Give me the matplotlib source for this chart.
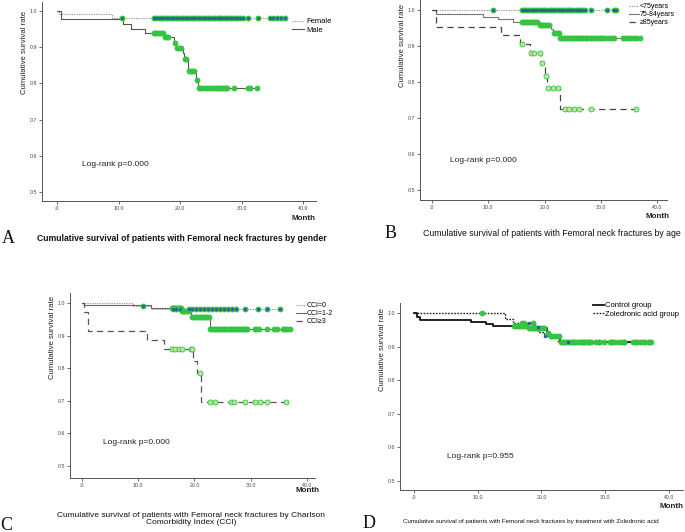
import numpy as np
import matplotlib
matplotlib.use("Agg")
import matplotlib.pyplot as plt

W, H = 685, 532

# ---- data (months, survival) ----
female_t = [0.3, 8.9]
female_s = [0.991, 0.982]
female_c = [10.5, 15.7, 16.1, 16.5, 16.9, 17.3, 17.7, 18.1, 18.5, 18.9, 19.3, 19.7, 20.1,
            20.5, 20.9, 21.3, 21.7, 22.1, 22.5, 22.9, 23.3, 23.7, 24.1, 24.5, 24.9, 25.3,
            25.7, 26.1, 26.5, 26.9, 27.3, 27.7, 28.1, 28.5, 28.9, 29.3, 29.7, 30.3, 31.1,
            32.7, 34.6, 35.1, 35.8, 36.4, 37.1]
male_t = [0.7, 10.8, 12.1, 14.3, 17.4, 19.0, 19.4, 20.5, 20.7, 21.3, 22.6, 22.9]
male_s = [0.977, 0.964, 0.951, 0.939, 0.927, 0.913, 0.899, 0.883, 0.867, 0.833, 0.810, 0.786]
male_c = [15.7, 16.0, 16.3, 16.6, 16.9, 17.2, 17.6, 17.9, 18.1, 19.1, 19.5, 19.8, 20.1,
          20.8, 21.0, 21.4, 21.7, 22.0, 22.3, 22.7, 23.0, 23.3, 23.6, 24.0, 24.4, 24.7,
          25.1, 25.5, 25.9, 26.2, 26.5, 26.8, 27.1, 27.4, 27.7, 28.8, 31.0, 31.4, 32.5]

age1_t = []
age1_s = []
age1_c = [10.8, 15.9, 16.3, 16.7, 17.1, 17.5, 17.9, 18.3, 18.7, 19.1, 19.5, 19.9, 20.3,
          20.7, 21.1, 21.5, 21.9, 22.3, 22.7, 23.1, 23.5, 23.9, 24.3, 24.7, 25.1, 25.5,
          25.9, 26.3, 26.7, 27.1, 28.3, 31.0, 32.4, 32.7]
age2_t = [0.8, 9.1, 11.7, 14.4, 19.1, 21.2, 21.5, 22.7]
age2_s = [0.988, 0.981, 0.975, 0.967, 0.958, 0.946, 0.935, 0.922]
age2_c = [15.9, 16.2, 16.5, 16.8, 17.1, 17.4, 17.7, 18.0, 18.3, 18.6, 19.2, 19.5, 19.8,
          20.1, 20.4, 20.7, 21.6, 21.9, 22.2, 22.5, 22.8, 23.1, 23.4, 23.7, 24.0, 24.3,
          24.6, 24.9, 25.2, 25.5, 25.8, 26.1, 26.4, 26.7, 27.0, 27.3, 27.6, 28.0, 28.4,
          28.8, 29.2, 29.6, 30.0, 30.4, 30.8, 31.2, 31.8, 32.3, 33.9, 34.3, 34.8, 35.3,
          35.8, 36.3, 36.9]
age3_t = [0.8, 12.2, 15.7, 17.4, 19.4, 20.0, 20.5, 22.8]
age3_s = [0.954, 0.931, 0.907, 0.881, 0.852, 0.817, 0.783, 0.724]
age3_c = [16.0, 17.6, 18.1, 19.1, 19.6, 20.2, 20.6, 21.5, 22.4, 23.6, 24.3, 25.3, 26.1,
          28.3, 36.3]

cci0_t = [9.1, 12.2]
cci0_s = [0.991, 0.982]
cci0_c = [10.8, 16.2, 16.8, 17.4, 19.0, 19.6, 20.3, 21.0, 21.7, 22.4, 23.1, 23.8, 24.5,
          25.2, 25.9, 26.6, 27.4, 28.9, 31.3, 32.8, 35.2]
cci1_t = [0.4, 12.2, 17.7, 19.4, 22.7]
cci1_s = [0.994, 0.986, 0.977, 0.956, 0.922]
cci1_c = [16.0, 16.2, 16.4, 16.6, 16.8, 17.0, 17.2, 17.4, 17.6, 17.8, 18.0, 18.2, 18.4,
          18.7, 19.0, 19.6, 19.9, 20.2, 20.5, 20.8, 21.1, 21.4, 21.7, 22.0, 22.3, 22.6,
          22.8, 23.1, 23.4, 23.7, 24.0, 24.3, 24.6, 24.9, 25.2, 25.5, 25.8, 26.1, 26.4,
          26.7, 27.0, 27.3, 27.6, 27.9, 28.2, 28.5, 28.8, 29.1, 29.4, 30.7, 31.0, 31.5,
          32.8, 34.2, 34.7, 35.7, 36.1, 36.5, 36.9]
cci3_t = [0.4, 1.0, 11.5, 14.5, 19.8, 20.4, 21.1]
cci3_s = [0.972, 0.915, 0.888, 0.860, 0.822, 0.784, 0.697]
cci3_c = [16.0, 16.6, 17.2, 17.8, 19.3, 19.6, 20.9, 22.7, 23.6, 26.5, 27.1, 28.9, 30.7,
          31.6, 32.8, 36.3]

ctrl_t = [0.4, 0.9, 9.0, 11.3, 12.4, 17.8, 20.8, 21.3, 22.9]
ctrl_s = [0.988, 0.980, 0.973, 0.967, 0.962, 0.956, 0.942, 0.932, 0.913]
ctrl_c = [15.7, 16.0, 16.3, 16.6, 16.9, 17.2, 17.5, 18.0, 18.3, 18.6, 18.9, 19.2, 19.5,
          19.8, 20.1, 20.4, 21.0, 21.5, 21.9, 22.3, 22.7, 23.0, 23.3, 23.6, 23.9, 24.2,
          24.5, 24.8, 25.1, 25.4, 25.7, 26.0, 26.3, 26.6, 26.9, 27.2, 27.5, 27.8, 28.5,
          29.0, 29.8, 30.7, 31.1, 31.5, 32.1, 32.6, 33.0, 34.4, 34.8, 35.5, 35.9, 36.3,
          36.8, 37.2]
zol_t = [14.3, 15.6, 19.0, 19.5, 20.4, 22.6]
zol_s = [0.983, 0.971, 0.958, 0.944, 0.932, 0.913]
zol_c = [10.7, 16.9, 17.3, 18.6, 21.5, 25.0, 26.5, 27.5, 29.0, 31.0, 33.0, 35.0, 36.9]
zol_blue = [18.1, 19.4, 20.6, 24.2]

x_ticks = [0, 10, 20, 30, 40]
x_ticklabels = [".0", "10.0", "20.0", "30.0", "40.0"]
y_ticks = [0.5, 0.6, 0.7, 0.8, 0.9, 1.0]
y_ticklabels = ["0.5", "0.6", "0.7", "0.8", "0.9", "1.0"]

GREEN = "#34c441"
PALE = "#bfe3a0"
BLUE = "#2b5fa8"
TXT = "Liberation Sans"

plt.rcParams["font.family"] = [TXT, "DejaVu Sans"]

fig = plt.figure(figsize=(W / 100, H / 100), dpi=100)


def rect(left, top, right, bottom):
    return [left / W, 1 - bottom / H, (right - left) / W, (bottom - top) / H]


def make_ax(r, xlim, ylim):
    ax = fig.add_axes(r)
    ax.set_xlim(*xlim)
    ax.set_ylim(*ylim)
    for s in ["top", "right"]:
        ax.spines[s].set_visible(False)
    for s in ["left", "bottom"]:
        ax.spines[s].set_color("#555555")
        ax.spines[s].set_linewidth(0.7)
    ax.set_xticks(x_ticks)
    ax.set_xticklabels(x_ticklabels)
    ax.set_yticks(y_ticks)
    ax.set_yticklabels(y_ticklabels)
    ax.tick_params(labelsize=3.8, length=2, width=0.6, color="#555555",
                   labelcolor="#444444", pad=1.5)
    ax.patch.set_alpha(0)
    return ax


def km(ax, times, surv, cens, color, ls, lw, label, face=GREEN, edge=GREEN, blue=False):
    t = [0.0] + list(times)
    s = [1.0] + list(surv)
    end = max(cens) if cens else t[-1]
    t.append(end)
    s.append(s[-1])
    line, = ax.step(t, s, where="post", color=color, ls=ls, lw=lw, label=label, zorder=2)
    idx = np.searchsorted(np.array(t[:-1]), cens, side="right") - 1
    cy = np.array(s)[idx]
    ax.plot(cens, cy, ls="none", marker="o", ms=3.6, mfc=face, mec=edge, mew=0.6, zorder=3)
    if blue:
        ax.plot(cens, cy, ls="none", marker="o", ms=1.3, mfc=BLUE, mec=BLUE, zorder=4)
    return line


def level(times, surv, x):
    t = [0.0] + list(times)
    s = [1.0] + list(surv)
    i = np.searchsorted(np.array(t), x, side="right") - 1
    return np.array(s)[i]


DOT = (0, (1.2, 1.0))
DASH = (0, (5, 3.5))

# ---------------- A ----------------
axA = make_ax(rect(42, 2, 316, 201), (-2.44, 42.1), (0.475, 1.025))
lf = km(axA, female_t, female_s, female_c, "#9a9a9a", DOT, 0.8, "Female", blue=True)
lm = km(axA, male_t, male_s, male_c, "#555555", "-", 0.8, "Male")
fig.legend([lf, lm], ["Female", "Male"], loc="upper left", bbox_to_anchor=(292 / W, 1 - 18 / H),
           frameon=False, fontsize=5.5, handlelength=1.6, handletextpad=0.3,
           labelspacing=0.15, borderpad=0, borderaxespad=0)

# ---------------- B ----------------
axB = make_ax(rect(420, 0, 667, 200), (-2.13, 41.74), (0.472, 1.028))
l1 = km(axB, age1_t, age1_s, age1_c, "#9a9a9a", DOT, 0.8, "<75years", blue=True)
l2 = km(axB, age2_t, age2_s, age2_c, "#777777", "-", 0.8, "75-84years")
l3 = km(axB, age3_t, age3_s, age3_c, "#444444", DASH, 0.9, "\u226585years", face=PALE)
fig.legend([l1, l2, l3], ["<75years", "75-84years", "\u226585years"], loc="upper left",
           bbox_to_anchor=(629 / W, 1 - 3 / H), frameon=False, fontsize=5.0,
           handlelength=1.4, handletextpad=0.2, labelspacing=0.15, borderpad=0,
           borderaxespad=0)

# ---------------- C ----------------
axC = make_ax(rect(70, 293, 315, 478), (-2.13, 41.42), (0.463, 1.031))
c0 = km(axC, cci0_t, cci0_s, cci0_c, "#9a9a9a", DOT, 0.8, "CCI=0", blue=True)
c1 = km(axC, cci1_t, cci1_s, cci1_c, "#666666", "-", 0.8, "CCI=1-2")
c3 = km(axC, cci3_t, cci3_s, cci3_c, "#555555", DASH, 0.9, "CCI\u22653", face=PALE)
fig.legend([c0, c1, c3], ["CCI=0", "CCI=1-2", "CCI\u22653"], loc="upper left",
           bbox_to_anchor=(296 / W, 1 - 302 / H), frameon=False, fontsize=5.0,
           handlelength=1.4, handletextpad=0.2, labelspacing=0.15, borderpad=0,
           borderaxespad=0)

# ---------------- D ----------------
axD = make_ax(rect(400, 303, 683, 490), (-2.2, 42.2), (0.473, 1.03))
d1 = km(axD, ctrl_t, ctrl_s, ctrl_c, "#111111", "-", 1.3, "Control group")
d2 = km(axD, zol_t, zol_s, zol_c, "#222222", DOT, 1.0, "Zoledronic acid group")
axD.plot(zol_blue, level(zol_t, zol_s, zol_blue), ls="none", marker="o", ms=1.5,
         mfc=BLUE, mec=BLUE, zorder=4)
fig.legend([d1, d2], ["Control group", "Zoledronic acid group"], loc="upper left",
           bbox_to_anchor=(593 / W, 1 - 302 / H), frameon=False, fontsize=5.5,
           handlelength=1.4, handletextpad=0.2, labelspacing=0.15, borderpad=0,
           borderaxespad=0)

# ---------------- texts ----------------
def ftext(x, y, s, **kw):
    fig.text(x / W, 1 - y / H, s, **kw)


for (x, y) in [(25, 52), (403, 45), (52, 337), (383, 349)]:
    ftext(x, y, "Cumulative survival rate", rotation=90, ha="center", va="center",
          fontsize=5.6, color="#222222")
for (x, y) in [(304, 218), (657, 216), (308, 491), (672, 506)]:
    ftext(x, y, "Month", ha="center", va="center", fontsize=5.8, fontweight="bold",
          color="#222222")
for (x, y, s) in [(82, 165, "Log-rank p=0.000"), (450, 160, "Log-rank p=0.000"),
                  (103, 442, "Log-rank p=0.000"), (447, 456, "Log-rank p=0.955")]:
    ftext(x, y, s, ha="left", va="center", fontsize=6, color="#222222")

SERIF = ["Liberation Serif", "DejaVu Serif"]
for (x, y, s) in [(8, 238, "A"), (391, 234, "B"), (6, 525, "C"), (369, 524, "D")]:
    ftext(x, y, s, ha="center", va="center", fontsize=13, family=SERIF, color="#111111")

ftext(37, 238, "Cumulative survival of patients with Femoral neck fractures by gender",
      ha="left", va="center", fontsize=6.2, fontweight="bold", color="#111111")
ftext(423, 234, "Cumulative survival of patients with Femoral neck fractures by age",
      ha="left", va="center", fontsize=6.35, color="#111111")
ftext(191, 519, "Cumulative survival of patients with Femoral neck fractures by Charlson\n"
      "Comorbidity Index (CCI)", ha="center", va="center", fontsize=6.0,
      linespacing=0.95, color="#111111")
ftext(403, 522, "Cumulative survival of patients with Femoral neck fractures by treatment "
      "with Zoledronic acid", ha="left", va="center", fontsize=4.5, color="#111111")

fig.savefig("out.png", dpi=100, facecolor="white")
